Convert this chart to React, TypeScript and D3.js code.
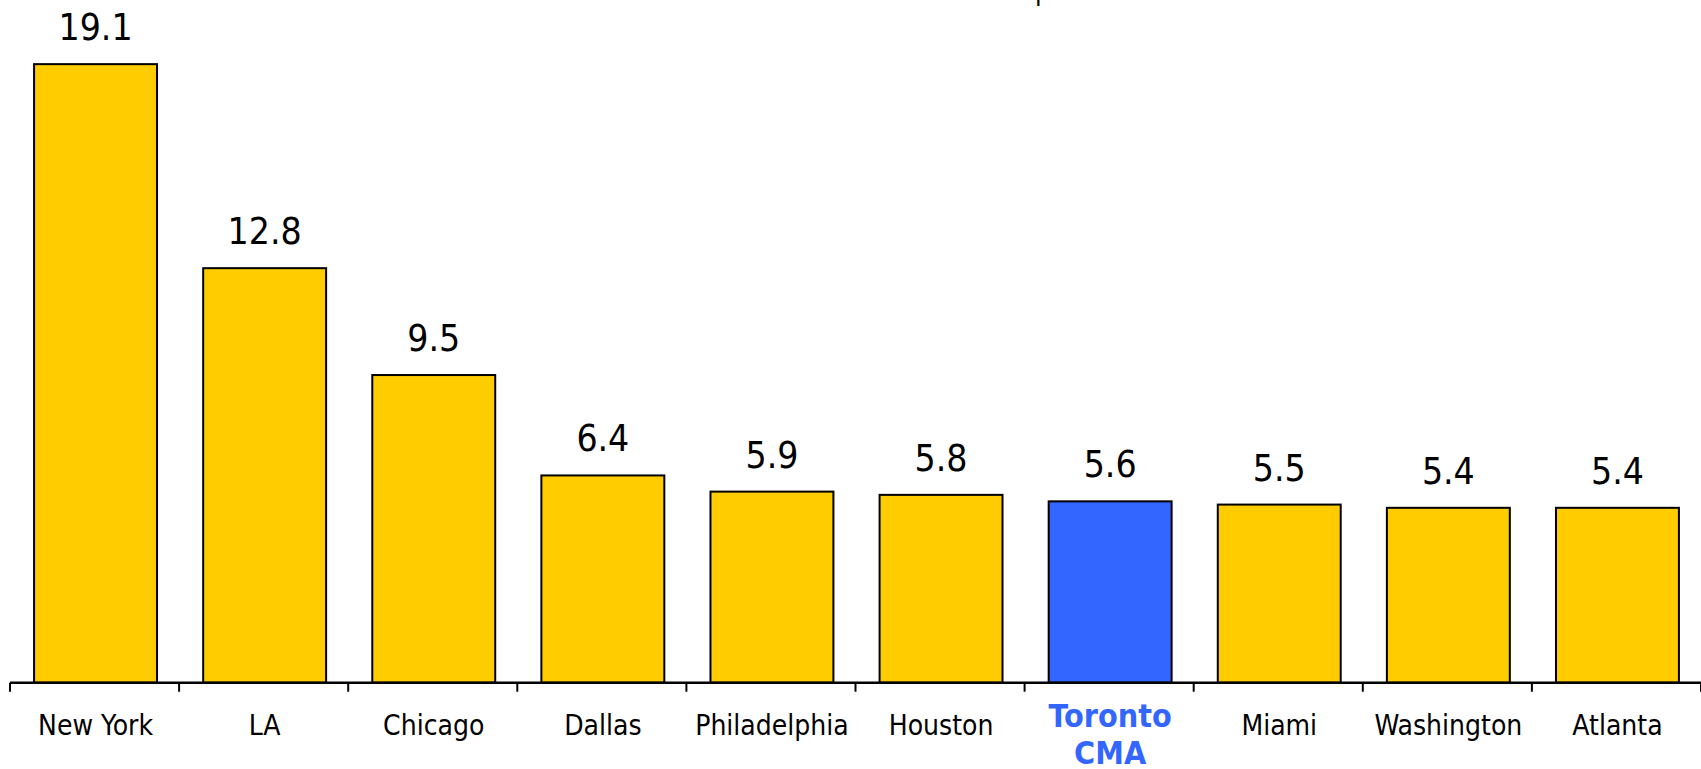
import React from "react";
import * as d3 from "d3";

const categories = ["New York", "LA", "Chicago", "Dallas", "Philadelphia", "Houston", "Toronto CMA", "Miami", "Washington", "Atlanta"];
const values = [19.1, 12.8, 9.5, 6.4, 5.9, 5.8, 5.6, 5.5, 5.4, 5.4];
const highlight = "Toronto CMA";
const yDomain = [0, 20];
const titleText = "North American Metro Areas: Total Population";

const W = 1701;
const H = 769;
const FONT = "'DejaVu Sans Condensed', Tahoma, 'Liberation Sans', sans-serif";

export default function App() {
  const x = d3.scaleBand<string>().domain(categories).range([10, W]).paddingInner(0.273).paddingOuter(0.1365);
  const y = d3.scaleLinear().domain(yDomain).range([682.7, 35]);
  const step = x.step();
  const axisY = y(0);
  const tickXs = d3.range(categories.length + 1).map((i) => 10 + i * step);

  return (
    <svg width={W} height={H} style={{ position: "absolute", left: 0, top: 0, background: "#fff" }} fontFamily={FONT}>
      <text x={858} y={-0.3} textAnchor="middle" fontSize={27} fill="#000">{titleText}</text>
      {categories.map((c, i) => {
        const bx = x(c)! + 1;
        const by = y(values[i]);
        const isH = c === highlight;
        return (
          <g key={c}>
            <rect x={bx} y={by} width={x.bandwidth()} height={axisY - by} fill={isH ? "#3366FF" : "#FFCC00"} stroke="#000" strokeWidth={2} />
            <text x={bx + x.bandwidth() / 2} y={by - 24} textAnchor="middle" fontSize={37} fill="#000">{d3.format(".1f")(values[i])}</text>
          </g>
        );
      })}
      <line x1={10} x2={W} y1={axisY} y2={axisY} stroke="#000" strokeWidth={2.5} />
      {tickXs.map((tx, i) => (
        <line key={i} x1={tx} x2={tx} y1={axisY} y2={axisY + 9} stroke="#000" strokeWidth={2} />
      ))}
      {categories.map((c) => {
        const cx = x(c)! + 1 + x.bandwidth() / 2;
        if (c === highlight) {
          const parts = c.split(" ");
          return (
            <text key={c} textAnchor="middle" fontSize={32} fontWeight="bold" fill="#3366FF">
              <tspan x={cx} y={727}>{parts[0]}</tspan>
              <tspan x={cx} y={764}>{parts[1]}</tspan>
            </text>
          );
        }
        return (
          <text key={c} x={cx} y={735} textAnchor="middle" fontSize={28} fill="#000">{c}</text>
        );
      })}
    </svg>
  );
}
